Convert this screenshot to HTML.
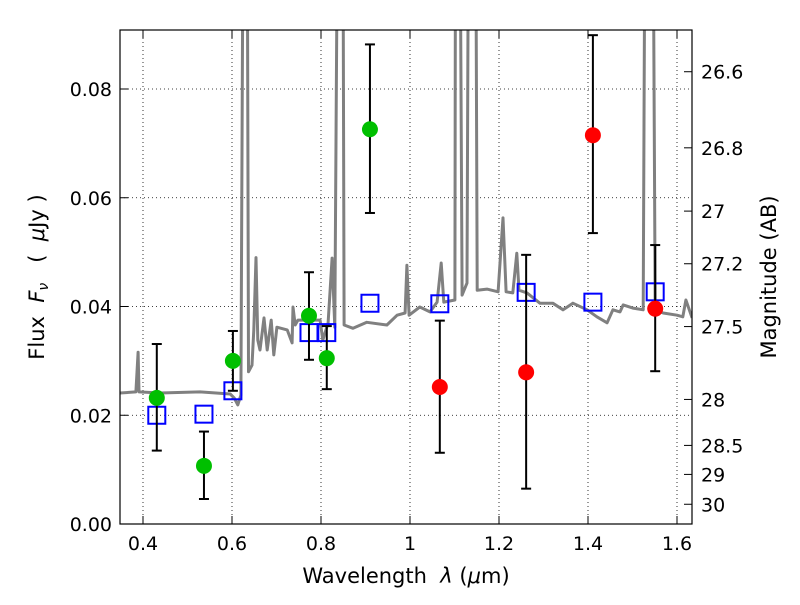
<!DOCTYPE html>
<html><head><meta charset="utf-8"><style>
body{margin:0;background:#fff;font-family:"Liberation Sans","DejaVu Sans",sans-serif}
svg text{font-family:"DejaVu Sans","Liberation Sans",sans-serif;white-space:pre}
</style></head><body>
<svg id="chart" width="800" height="600" xmlns="http://www.w3.org/2000/svg">
<defs><clipPath id="clip"><rect x="120" y="30" width="572" height="494"/></clipPath></defs>
<rect x="0" y="0" width="800" height="600" fill="#fff"/>
<g id="grid"></g>
<g id="spec" clip-path="url(#clip)"></g>
<g id="marks" clip-path="url(#clip)"></g>
<rect x="120" y="30" width="572" height="494" fill="none" stroke="#000" stroke-width="1.2"/>
<g id="axes"></g>
<text x="406" y="583" font-size="21" text-anchor="middle">Wavelength  <tspan font-style="italic">λ</tspan> (<tspan font-style="italic">μ</tspan>m)</text>
<text transform="translate(44,277) rotate(-90)" font-size="21" text-anchor="middle">Flux  <tspan font-style="italic">F<tspan font-size="14" dy="4">ν</tspan></tspan><tspan dy="-4">   (  </tspan><tspan font-style="italic">μ</tspan>Jy )</text>
<text transform="translate(776,277) rotate(-90)" font-size="21" text-anchor="middle">Magnitude (AB)</text>
</svg>
<script>
const xTicks=[0.4,0.6,0.8,1.0,1.2,1.4,1.6];
const xTickLabels=["0.4","0.6","0.8","1","1.2","1.4","1.6"];
const yTicks=[0,0.02,0.04,0.06,0.08];
const yTickLabels=["0.00","0.02","0.04","0.06","0.08"];
const magTicks=[26.6,26.8,27,27.2,27.5,28,28.5,29,30];
const magTickLabels=["26.6","26.8","27","27.2","27.5","28","28.5","29","30"];
const specLam=[0.348,0.384,0.389,0.391,0.438,0.528,0.596,0.605,0.613,0.620,0.627,0.633,0.637,0.645,0.649,0.654,0.658,0.663,0.672,0.679,0.688,0.694,0.701,0.724,0.735,0.737,0.742,0.748,0.798,0.804,0.816,0.825,0.831,0.840,0.848,0.852,0.872,0.903,0.948,0.971,0.989,0.993,0.998,1.022,1.045,1.061,1.070,1.076,1.101,1.103,1.110,1.117,1.128,1.133,1.146,1.151,1.173,1.198,1.209,1.216,1.231,1.240,1.245,1.263,1.292,1.321,1.344,1.366,1.398,1.420,1.443,1.456,1.472,1.479,1.501,1.524,1.530,1.544,1.551,1.569,1.600,1.613,1.620,1.634];
const specFlux=[0.0241,0.0243,0.0316,0.0243,0.0241,0.0243,0.0239,0.0232,0.0219,0.0237,0.15,0.15,0.028,0.0292,0.0357,0.049,0.0338,0.032,0.0379,0.032,0.0375,0.0311,0.0362,0.0357,0.0333,0.0399,0.0366,0.0375,0.0375,0.0338,0.037,0.0489,0.0362,0.15,0.15,0.0366,0.036,0.0371,0.0366,0.0384,0.0388,0.0476,0.0384,0.0399,0.039,0.0408,0.048,0.0408,0.0412,0.15,0.15,0.0421,0.0443,0.15,0.15,0.043,0.0432,0.0427,0.0563,0.0427,0.0425,0.0498,0.043,0.0425,0.0406,0.0406,0.0394,0.0406,0.0394,0.0381,0.037,0.0394,0.039,0.0403,0.0397,0.0394,0.15,0.15,0.0394,0.0388,0.0384,0.0381,0.0412,0.0379];
const bbLam=[0.431,0.537,0.602,0.773,0.813,0.910];
const bbFlux=[0.0232,0.0107,0.0300,0.0383,0.0305,0.0726];
const bbLo=[0.0135,0.0046,0.0245,0.0302,0.0248,0.0572];
const bbHi=[0.0331,0.0170,0.0355,0.0463,0.0364,0.0882];
const nbLam=[1.067,1.261,1.411,1.551];
const nbFlux=[0.0252,0.0279,0.0715,0.0396];
const nbLo=[0.0131,0.0065,0.0535,0.0281];
const nbHi=[0.0374,0.0495,0.0899,0.0513];
const modLam=[0.431,0.537,0.602,0.773,0.813,0.910,1.067,1.261,1.411,1.551];
const modFlux=[0.0200,0.0202,0.0245,0.0352,0.0352,0.0406,0.0405,0.0426,0.0408,0.0427];

const NS="http://www.w3.org/2000/svg";
const X=l=>143+(l-0.4)*445;
const Y=f=>524-f*5437.5;
const magY=m=>Y(Math.pow(10,(23.9-m)/2.5));
function mk(tag,attrs,parent){const e=document.createElementNS(NS,tag);for(const k in attrs)e.setAttribute(k,attrs[k]);parent.appendChild(e);return e;}
const grid=document.getElementById('grid'),axes=document.getElementById('axes'),spec=document.getElementById('spec'),marks=document.getElementById('marks');
xTicks.forEach((t,i)=>{
  const x=X(t);
  const g=mk('line',{x1:x,x2:x,y1:30,y2:524,stroke:'#000','stroke-width':0.8,'stroke-dasharray':'1,3'},grid);
  
  
  mk('line',{x1:x,x2:x,y1:524,y2:516,stroke:'#000'},axes);
  mk('line',{x1:x,x2:x,y1:30,y2:38,stroke:'#000'},axes);
  const tx=mk('text',{x:x,y:550,'font-size':19,'text-anchor':'middle'},axes);
  tx.textContent=xTickLabels[i];
  
  
});
yTicks.forEach((t,i)=>{
  const y=Y(t);
  const g=mk('line',{x1:120,x2:692,y1:y,y2:y,stroke:'#000','stroke-width':0.8,'stroke-dasharray':'1,3'},grid);
  
  
  mk('line',{x1:120,x2:128,y1:y,y2:y,stroke:'#000'},axes);
  const tx=mk('text',{x:112,y:y+7,'font-size':19,'text-anchor':'end'},axes);
  tx.textContent=yTickLabels[i];
  
  
});
magTicks.forEach((m,i)=>{
  const y=magY(m);
  mk('line',{x1:692,x2:684,y1:y,y2:y,stroke:'#000'},axes);
  const tx=mk('text',{x:701,y:y+7,'font-size':19},axes);
  tx.textContent=magTickLabels[i];
  
  
});
const pts=specLam.map((l,i)=>X(l).toFixed(1)+','+Y(specFlux[i]).toFixed(1)).join(' ');
const pl=mk('polyline',{points:pts,fill:'none',stroke:'#808080','stroke-width':3,'stroke-linejoin':'round'},spec);


function errbar(l,lo,hi){
  const x=X(l);
  const g=mk('g',{stroke:'#000','stroke-width':2},marks);
  
  
  mk('line',{x1:x,x2:x,y1:Y(lo),y2:Y(hi)},g);
  mk('line',{x1:x-5,x2:x+5,y1:Y(lo),y2:Y(lo)},g);
  mk('line',{x1:x-5,x2:x+5,y1:Y(hi),y2:Y(hi)},g);
}
modLam.forEach((l,i)=>{
  const r=mk('rect',{x:X(l)-8.5,y:Y(modFlux[i])-8.5,width:17,height:17,fill:'none',stroke:'#0000ff','stroke-width':2},marks);
  
  
});
bbLam.forEach((l,i)=>{
  errbar(l,bbLo[i],bbHi[i]);
  const c=mk('circle',{cx:X(l),cy:Y(bbFlux[i]),r:8,fill:'#00bf00'},marks);
  
  
});
nbLam.forEach((l,i)=>{
  errbar(l,nbLo[i],nbHi[i]);
  const c=mk('circle',{cx:X(l),cy:Y(nbFlux[i]),r:8,fill:'#ff0000'},marks);
  
  
});
</script>
</body></html>
